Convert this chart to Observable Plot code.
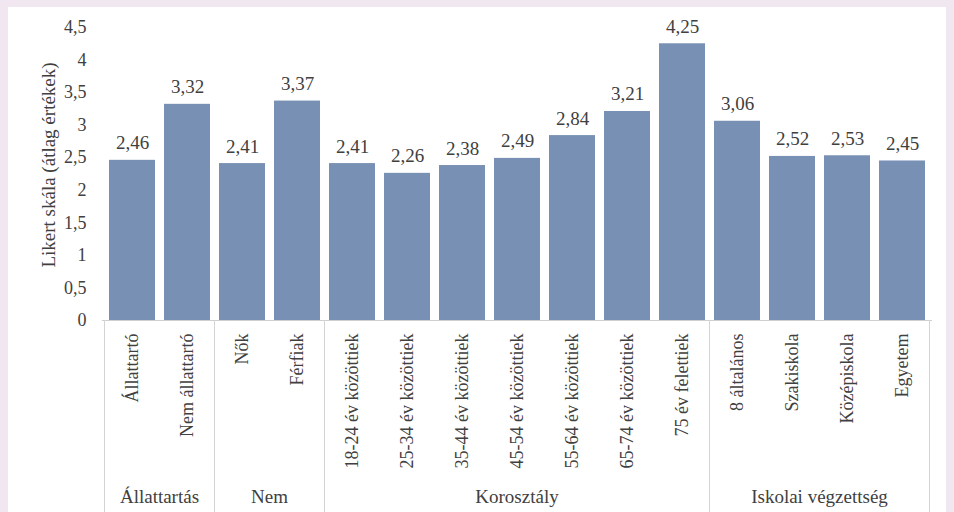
<!DOCTYPE html>
<html>
<head>
<meta charset="utf-8">
<script src="https://cdn.jsdelivr.net/npm/d3@7"></script>
<script src="https://cdn.jsdelivr.net/npm/@observablehq/plot@0.6"></script>
<style>
  html, body { margin: 0; padding: 0; background: #f1e7f1; }
  #wrap { position: relative; width: 954px; height: 512px; overflow: hidden; }
  #panel { position: absolute; left: 8px; top: 7px; width: 938px; height: 505px; background: #ffffff; }
  #chart { position: absolute; left: 0; top: 0; }
  #chart svg, #chart svg text, #chart svg g { font-family: "Liberation Serif", "Times New Roman", "DejaVu Serif", serif !important; }
</style>
</head>
<body>
<div id="wrap"><div id="panel"></div><div id="chart"></div></div>
<script>
const categories = ["Állattartó", "Nem állattartó", "Nők", "Férfiak",
  "18-24 év közöttiek", "25-34 év közöttiek", "35-44 év közöttiek", "45-54 év közöttiek",
  "55-64 év közöttiek", "65-74 év közöttiek", "75 év felettiek",
  "8 általános", "Szakiskola", "Középiskola", "Egyetem"];
const values = [2.46, 3.32, 2.41, 3.37, 2.41, 2.26, 2.38, 2.49, 2.84, 3.21, 4.25, 3.06, 2.52, 2.53, 2.45];
const groupNames = ["Állattartás", "Nem", "Korosztály", "Iskolai végzettség"];
const groupOf = [0, 0, 1, 1, 2, 2, 2, 2, 2, 2, 2, 3, 3, 3, 3];
const yTicks = [0, 0.5, 1, 1.5, 2, 2.5, 3, 3.5, 4, 4.5];
const yLabel = "Likert skála (átlag értékek)";

const data = categories.map((c, i) => ({cat: c, value: values[i], group: groupNames[groupOf[i]]}));
const comma = s => String(s).replace(".", ",");

const textColor = "#404040";
const W = 954, H = 512;

const chart = Plot.plot({
  width: W,
  height: H,
  marginLeft: 102,
  marginRight: 22,
  marginTop: 27,
  marginBottom: 192,
  style: {background: "transparent", color: textColor},
  x: {domain: categories, paddingInner: 0.17, paddingOuter: 0.085, label: null},
  y: {domain: [0, 4.5], label: null},
  marks: [
    Plot.ruleY([0], {stroke: "#cfcfcf", strokeWidth: 1}),
    Plot.barY(data, {x: "cat", y: "value", fill: "#7890b3"}),
    Plot.text(data, {x: "cat", y: "value", text: d => d3.format(".2f")(d.value).replace(".", ","),
      lineAnchor: "bottom", dy: -11, fontSize: 19, fill: textColor}),
    Plot.axisY({ticks: yTicks, tickFormat: comma, tickSize: 0, tickPadding: 16, fontSize: 18, label: null, fill: textColor}),
    Plot.axisX({tickSize: 0, tickPadding: 13, tickRotate: -90, fontSize: 18, label: null, fill: textColor}),
    Plot.text([yLabel], {frameAnchor: "left", textAnchor: "middle", rotate: -90, dx: -54, dy: -9, fontSize: 19, fill: textColor})
  ]
});

document.getElementById("chart").appendChild(chart);

// Group separators and group labels, placed with the plot's own scales
const xs = chart.scale("x");
const ys = chart.scale("y");
const step = xs.step, bw = xs.bandwidth;
const gap = (step - bw) / 2;
const svg = d3.select(chart);
const y0 = ys.apply(0);
const g = svg.append("g");
const boundaries = [];
groupNames.forEach((gname, gi) => {
  const idx = groupOf.map((v, i) => v === gi ? i : -1).filter(i => i >= 0);
  const left = xs.apply(categories[idx[0]]) - gap;
  const right = xs.apply(categories[idx[idx.length - 1]]) + bw + gap;
  if (gi === 0) boundaries.push(left);
  boundaries.push(right);
  g.append("text")
    .attr("x", (left + right) / 2)
    .attr("y", H - 9)
    .attr("text-anchor", "middle")
    .attr("font-size", 19)
    .attr("fill", textColor)
    .text(gname);
});
boundaries.forEach(bx => {
  g.append("line")
    .attr("x1", bx).attr("x2", bx)
    .attr("y1", y0).attr("y2", H)
    .attr("stroke", "#d4d4d4").attr("stroke-width", 1);
});
</script>
</body>
</html>
